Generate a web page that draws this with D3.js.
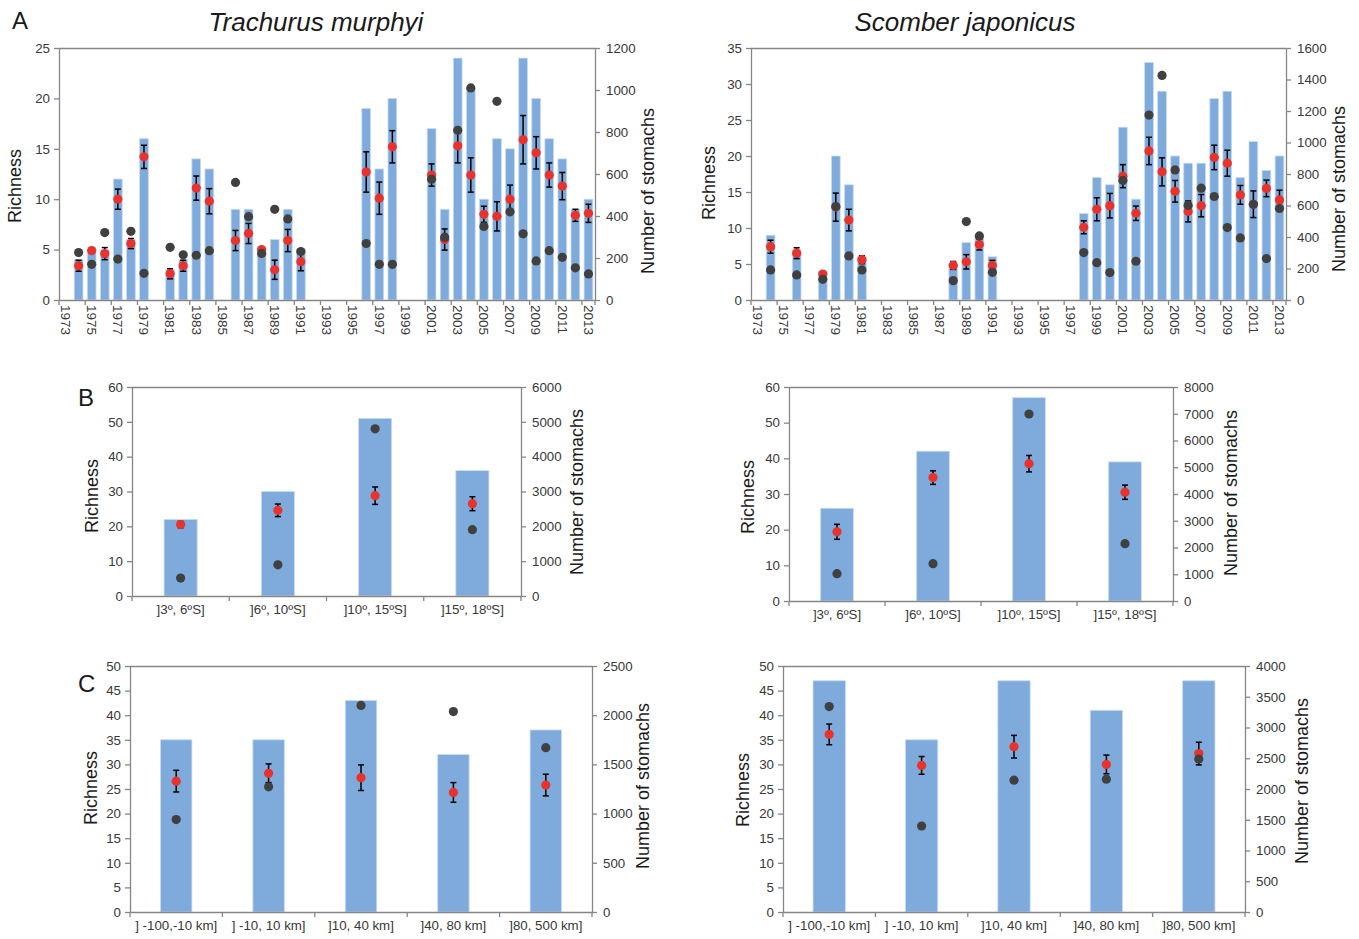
<!DOCTYPE html>
<html>
<head>
<meta charset="utf-8">
<script src="https://cdn.jsdelivr.net/npm/d3@7"></script>
<style>
  body { margin: 0; background: #fff; }
  svg { font-family: 'Liberation Sans', Arial, sans-serif; }
  .eje path, .eje line { stroke: #868686; stroke-width: 1.3px; }
  .eje text { fill: #383838; font-size: 13.3px; font-family: 'Liberation Sans', Arial, sans-serif; }
</style>
</head>
<body>
<svg id="graf" width="1359" height="939"></svg>
<script>
// -- Datos --
// A: por año (null = sin muestreo)
anios = [1973,1974,1975,1976,1977,1978,1979,1980,1981,1982,1983,1984,1985,1986,1987,1988,1989,1990,1991,1992,1993,
         1994,1995,1996,1997,1998,1999,2000,2001,2002,2003,2004,2005,2006,2007,2008,2009,2010,2011,2012,2013]
etiquetasAnio = [1973,1975,1977,1979,1981,1983,1985,1987,1989,1991,1993,1995,1997,1999,2001,2003,2005,2007,2009,2011,2013]

// Trachurus murphyi
tmRiqueza   = [null,4,5,5,12,6,16,null,3,4,14,13,null,9,9,5,6,9,5,null,null,null,null,19,13,20,null,null,17,9,24,21,10,16,15,24,20,16,14,9,10]
tmMedia     = [null,3.4,4.9,4.6,10.0,5.6,14.2,null,2.6,3.4,11.1,9.8,null,5.9,6.6,5.0,3.0,5.9,3.8,null,null,null,null,12.7,10.1,15.2,null,null,12.4,6.0,15.3,12.4,8.5,8.3,10.0,15.9,14.6,12.4,11.3,8.4,8.6]
tmError     = [null,0.55,0.2,0.6,1.0,0.5,1.15,null,0.5,0.55,1.2,1.25,null,1.0,1.0,0.2,0.95,1.1,0.9,null,null,null,null,2.0,1.6,1.6,null,null,1.1,1.05,1.7,1.7,0.8,1.45,1.4,2.4,1.6,1.2,1.35,0.6,0.9]
tmEstomagos = [null,226,170,321,195,327,127,null,251,215,213,235,null,560,397,222,432,386,231,null,null,null,null,269,170,170,null,null,575,299,808,1010,350,946,420,315,186,235,203,153,124]

// Scomber japonicus
sjRiqueza   = [null,9,null,7,null,4,20,16,6,null,null,null,null,null,null,5,8,9,6,null,null,null,null,null,null,12,17,16,24,14,33,29,20,19,19,28,29,17,22,18,20]
sjMedia     = [null,7.4,null,6.5,null,3.6,12.9,11.1,5.6,null,null,null,null,null,null,4.8,5.3,7.7,4.8,null,null,null,null,null,null,10.1,12.6,13.1,17.2,12.05,20.7,17.8,15.1,12.3,13.1,19.8,19.0,14.6,13.3,15.5,13.9]
sjError     = [null,0.9,null,0.75,null,0.3,1.95,1.5,0.55,null,null,null,null,null,null,0.55,1.0,0.75,0.7,null,null,null,null,null,null,0.9,1.6,1.7,1.6,1.0,1.9,1.95,1.5,1.45,1.55,1.7,1.8,1.3,1.85,1.15,1.35]
sjEstomagos = [null,191,null,159,null,131,593,280,191,null,null,null,null,null,null,123,498,407,176,null,null,null,null,null,null,301,237,174,759,246,1174,1426,826,600,710,657,460,394,608,263,581]

// B: latitud
latitudes = [']3º, 6ºS]', ']6º, 10ºS]', ']10º, 15ºS]', ']15º, 18ºS]']
tmLatRiqueza   = [22, 30, 51, 36]
tmLatMedia     = [20.5, 24.6, 28.8, 26.5]
tmLatError     = [0.9, 1.8, 2.5, 2.0]
tmLatEstomagos = [514, 895, 4800, 1905]
sjLatRiqueza   = [26, 42, 57, 39]
sjLatMedia     = [19.4, 34.6, 38.5, 30.5]
sjLatError     = [2.1, 1.9, 2.3, 2.0]
sjLatEstomagos = [1022, 1396, 6990, 2143]

// C: distancia a la costa
distancias = [' ] -100,-10 km]', ' ] -10, 10 km]', ']10, 40 km]', ']40, 80 km]', ']80, 500 km]']
tmDistRiqueza   = [35, 35, 43, 32, 37]
tmDistMedia     = [26.6, 28.2, 27.3, 24.3, 25.8]
tmDistError     = [2.2, 1.9, 2.6, 2.0, 2.2]
tmDistEstomagos = [939, 1272, 2099, 2037, 1670]
sjDistRiqueza   = [47, 35, 47, 41, 47]
sjDistMedia     = [36.1, 29.8, 33.6, 30.0, 32.2]
sjDistError     = [2.1, 1.8, 2.3, 1.9, 2.3]
sjDistEstomagos = [3341, 1398, 2144, 2160, 2487]

svg = d3.select('#graf')

// Render de un panel: barras (riqueza), media con error (rojo), nro estómagos (gris, eje derecho)
function panel(p) {
    g = svg.append('g')

    x = d3.scaleBand().domain(p.cats).range([p.x0, p.x1]).padding(0)
    yL = d3.scaleLinear().domain([0, p.maxL]).range([p.y1, p.y0])
    yR = d3.scaleLinear().domain([0, p.maxR]).range([p.y1, p.y0])

    datos = p.cats.map((c, i) => ({ c: c, riq: p.riq[i], med: p.med[i], err: p.err[i], est: p.est[i] }))
    datos = datos.filter(d => d.riq != null)

    // marco superior
    g.append('line')
     .attr('x1', p.x0).attr('x2', p.x1)
     .attr('y1', p.y0 + 0.5).attr('y2', p.y0 + 0.5)
     .attr('stroke', '#868686').attr('stroke-width', 1.3)

    bw = x.bandwidth() * p.ancho
    g.selectAll('rect')
     .data(datos)
     .enter()
     .append('rect')
       .attr('x', d => x(d.c) + (x.bandwidth() - bw) / 2)
       .attr('y', d => yL(d.riq))
       .attr('width', bw)
       .attr('height', d => yL(0) - yL(d.riq))
       .attr('fill', '#7eaadc')
       .attr('stroke', '#c9dcf1')
       .attr('stroke-width', 0.8)

    // ejes
    g.append('g')
     .attr('class', 'eje')
     .attr('transform', `translate(${p.x0}, 0)`)
     .call(d3.axisLeft(yL).tickValues(d3.range(0, p.maxL + 0.01, p.pasoL))
             .tickSize(5).tickSizeOuter(0).tickPadding(4).tickFormat(d => d))

    g.append('g')
     .attr('class', 'eje')
     .attr('transform', `translate(${p.x1}, 0)`)
     .call(d3.axisRight(yR).tickValues(d3.range(0, p.maxR + 0.01, p.pasoR))
             .tickSize(5).tickSizeOuter(0).tickPadding(6).tickFormat(d => d))

    xAxis = g.append('g')
             .attr('class', 'eje')
             .attr('transform', `translate(0, ${p.y1})`)
             .call(d3.axisBottom(x).tickValues(p.etiquetas || p.cats).tickSize(0).tickSizeOuter(0))

    if (p.rotar) {
        xAxis.selectAll('text')
             .attr('transform', 'rotate(90)')
             .attr('x', 5)
             .attr('y', 0)
             .attr('dy', '0.35em')
             .style('text-anchor', 'start')
             .style('font-size', '13.5px')
    } else {
        xAxis.selectAll('text')
             .attr('y', 9)
             .attr('dy', '0.71em')
    }

    // marcas en los límites de categoría
    limites = p.cats.filter((c, i) => i % p.cadaTick == 0).map(c => x(c))
    limites.push(p.x1)
    xAxis.selectAll('line.lim')
         .data(limites)
         .enter()
         .append('line')
           .attr('class', 'lim')
           .attr('x1', d => d).attr('x2', d => d)
           .attr('y1', 0).attr('y2', 5)

    centro = d => x(d.c) + x.bandwidth() / 2

    // barras de error
    err = g.append('g').attr('stroke', '#000').attr('stroke-width', 1.5)
    conErr = datos.filter(d => d.err > 0)
    err.selectAll('line.v').data(conErr).enter().append('line')
       .attr('x1', centro).attr('x2', centro)
       .attr('y1', d => yL(d.med + d.err)).attr('y2', d => yL(d.med - d.err))
    err.selectAll('line.a').data(conErr).enter().append('line')
       .attr('x1', d => centro(d) - 3).attr('x2', d => centro(d) + 3)
       .attr('y1', d => yL(d.med + d.err)).attr('y2', d => yL(d.med + d.err))
    err.selectAll('line.b').data(conErr).enter().append('line')
       .attr('x1', d => centro(d) - 3).attr('x2', d => centro(d) + 3)
       .attr('y1', d => yL(d.med - d.err)).attr('y2', d => yL(d.med - d.err))

    g.selectAll('circle.media')
     .data(datos)
     .enter()
     .append('circle')
       .attr('class', 'media')
       .attr('cx', centro)
       .attr('cy', d => yL(d.med))
       .attr('r', 4.6)
       .attr('fill', '#e8322b')

    g.selectAll('circle.est')
     .data(datos)
     .enter()
     .append('circle')
       .attr('class', 'est')
       .attr('cx', centro)
       .attr('cy', d => yR(d.est))
       .attr('r', 4.6)
       .attr('fill', '#404040')

    // títulos de ejes
    g.append('text')
     .attr('transform', `translate(${p.tituloL[0]}, ${p.tituloL[1]}) rotate(-90)`)
     .attr('text-anchor', 'middle')
     .attr('dominant-baseline', 'central')
     .style('font-size', '18px')
     .attr('fill', '#1a1a1a')
     .text('Richness')

    g.append('text')
     .attr('transform', `translate(${p.tituloR[0]}, ${p.tituloR[1]}) rotate(-90)`)
     .attr('text-anchor', 'middle')
     .attr('dominant-baseline', 'central')
     .style('font-size', '18px')
     .attr('fill', '#1a1a1a')
     .text('Number of stomachs')
}

// Panel A
panel({ cats: anios, etiquetas: etiquetasAnio, rotar: true, cadaTick: 2, ancho: 0.67,
        riq: tmRiqueza, med: tmMedia, err: tmError, est: tmEstomagos,
        x0: 59, x1: 595, y0: 48, y1: 300, maxL: 25, pasoL: 5, maxR: 1200, pasoR: 200,
        tituloL: [15, 186], tituloR: [648, 191] })
panel({ cats: anios, etiquetas: etiquetasAnio, rotar: true, cadaTick: 2, ancho: 0.67,
        riq: sjRiqueza, med: sjMedia, err: sjError, est: sjEstomagos,
        x0: 751, x1: 1286, y0: 48, y1: 300, maxL: 35, pasoL: 5, maxR: 1600, pasoR: 200,
        tituloL: [709, 183], tituloR: [1339, 189] })

// Panel B
panel({ cats: latitudes, cadaTick: 1, ancho: 0.34,
        riq: tmLatRiqueza, med: tmLatMedia, err: tmLatError, est: tmLatEstomagos,
        x0: 132, x1: 521, y0: 387, y1: 596, maxL: 60, pasoL: 10, maxR: 6000, pasoR: 1000,
        tituloL: [92, 496], tituloR: [577, 492] })
panel({ cats: latitudes, cadaTick: 1, ancho: 0.34,
        riq: sjLatRiqueza, med: sjLatMedia, err: sjLatError, est: sjLatEstomagos,
        x0: 789, x1: 1173, y0: 387, y1: 601, maxL: 60, pasoL: 10, maxR: 8000, pasoR: 1000,
        tituloL: [748, 497], tituloR: [1231, 493] })

// Panel C
panel({ cats: distancias, cadaTick: 1, ancho: 0.34,
        riq: tmDistRiqueza, med: tmDistMedia, err: tmDistError, est: tmDistEstomagos,
        x0: 130, x1: 592, y0: 666, y1: 912, maxL: 50, pasoL: 5, maxR: 2500, pasoR: 500,
        tituloL: [91, 788], tituloR: [643, 786] })
panel({ cats: distancias, cadaTick: 1, ancho: 0.35,
        riq: sjDistRiqueza, med: sjDistMedia, err: sjDistError, est: sjDistEstomagos,
        x0: 783, x1: 1245, y0: 666, y1: 912, maxL: 50, pasoL: 5, maxR: 4000, pasoR: 500,
        tituloL: [743, 790], tituloR: [1302, 781] })

// Letras y títulos de especie
letras = [['A', 12, 29], ['B', 78, 406], ['C', 78, 692]]
svg.selectAll('text.letra')
   .data(letras)
   .enter()
   .append('text')
     .attr('class', 'letra')
     .attr('x', d => d[1])
     .attr('y', d => d[2])
     .style('font-size', '24px')
     .attr('fill', '#1a1a1a')
     .text(d => d[0])

especies = [['Trachurus murphyi', 316], ['Scomber japonicus', 965]]
svg.selectAll('text.especie')
   .data(especies)
   .enter()
   .append('text')
     .attr('class', 'especie')
     .attr('x', d => d[1])
     .attr('y', 31)
     .attr('text-anchor', 'middle')
     .style('font-size', '26px')
     .style('font-style', 'italic')
     .attr('fill', '#1a1a1a')
     .text(d => d[0])
</script>
</body>
</html>
